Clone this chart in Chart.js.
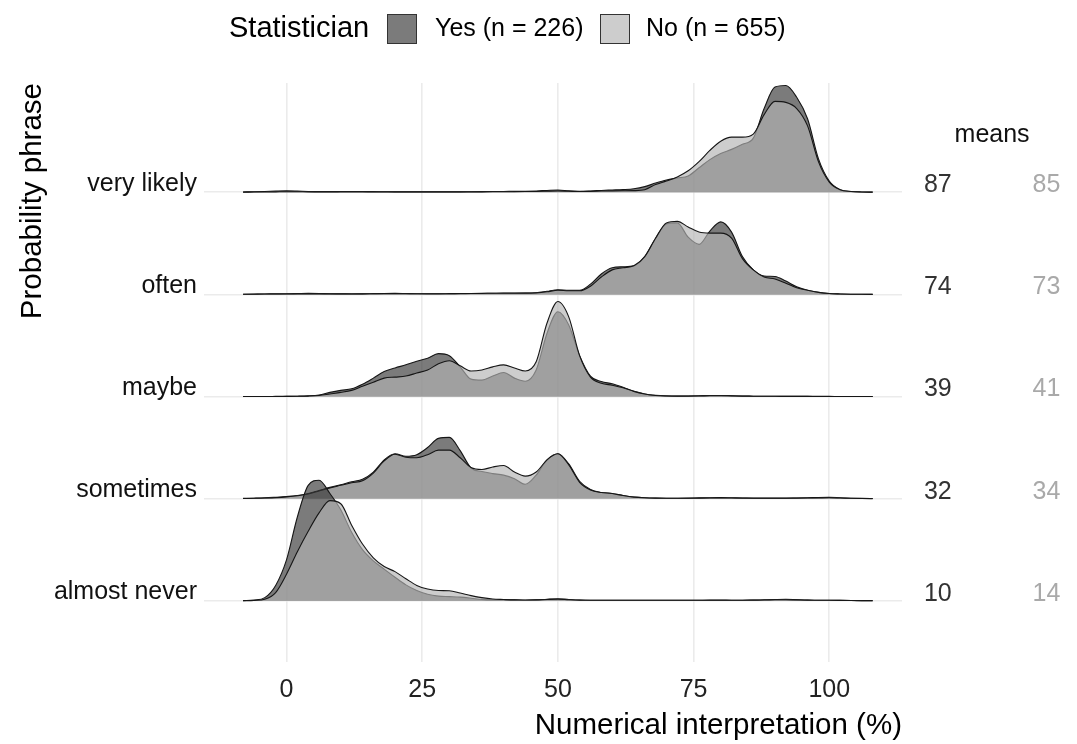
<!DOCTYPE html>
<html>
<head>
<meta charset="utf-8">
<script src="https://cdn.jsdelivr.net/npm/chart.js"></script>
<style>
  html, body { margin: 0; background: #fff; }
  #wrap { width: 1077px; height: 744px; position: relative; }
</style>
</head>
<body>
<div id="wrap"><canvas id="ridges"></canvas></div>
<script>
// rows from bottom to top
const categories = ["almost never", "sometimes", "maybe", "often", "very likely"];
const xTicks = [0, 25, 50, 75, 100];
const legendLabels = ["Yes (n = 226)", "No (n = 655)"];
const meansYes = [10, 32, 39, 74, 87];
const meansNo = [14, 34, 41, 73, 85];

// density estimates, in units of row spacing
const xGrid = [
  -8, -6, -4, -2, 0, 2, 4, 6, 8, 10,
  12, 14, 16, 18, 20, 22, 24, 26, 28, 30,
  32, 34, 36, 38, 40, 42, 44, 46, 48, 50,
  52, 54, 56, 58, 60, 62, 64, 66, 68, 70,
  72, 74, 76, 78, 80, 82, 84, 86, 88, 90,
  92, 94, 96, 98, 100, 102, 104, 106, 108
];

const veryLikelyYes = [
  0.003, 0.005, 0.008, 0.012, 0.015, 0.012, 0.008, 0.006, 0.006, 0.007,
  0.008, 0.007, 0.006, 0.005, 0.004, 0.004, 0.004, 0.004, 0.004, 0.004,
  0.004, 0.005, 0.006, 0.007, 0.008, 0.009, 0.01, 0.013, 0.018, 0.022,
  0.014, 0.01, 0.013, 0.018, 0.022, 0.026, 0.034, 0.055, 0.09, 0.12,
  0.14, 0.16, 0.24, 0.32, 0.38, 0.42, 0.47, 0.53, 0.82, 1.03,
  1.045, 0.93, 0.72, 0.33, 0.11, 0.025, 0.008, 0.003, 0.001
];
const veryLikelyNo = [
  0.001, 0.002, 0.003, 0.004, 0.005, 0.005, 0.004, 0.004, 0.004, 0.004,
  0.004, 0.004, 0.004, 0.004, 0.004, 0.004, 0.004, 0.004, 0.004, 0.004,
  0.004, 0.004, 0.004, 0.005, 0.005, 0.006, 0.007, 0.008, 0.01, 0.012,
  0.01, 0.008, 0.009, 0.012, 0.014, 0.015, 0.016, 0.025, 0.075, 0.11,
  0.15, 0.21, 0.30, 0.41, 0.50, 0.54, 0.54, 0.57, 0.76, 0.89,
  0.88, 0.82, 0.65, 0.30, 0.10, 0.025, 0.008, 0.002, 0.001
];
const oftenYes = [
  0.002, 0.003, 0.004, 0.005, 0.006, 0.008, 0.01, 0.009, 0.006, 0.005,
  0.004, 0.005, 0.007, 0.009, 0.01, 0.008, 0.006, 0.005, 0.005, 0.006,
  0.007, 0.008, 0.009, 0.01, 0.011, 0.011, 0.012, 0.016, 0.03, 0.045,
  0.04, 0.04, 0.1, 0.2, 0.26, 0.27, 0.28, 0.37, 0.55, 0.69,
  0.70, 0.56, 0.49, 0.62, 0.71, 0.61, 0.37, 0.24, 0.18, 0.175,
  0.13, 0.075, 0.04, 0.02, 0.008, 0.004, 0.002, 0.001, 0
];
const oftenNo = [
  0.001, 0.002, 0.003, 0.003, 0.004, 0.005, 0.005, 0.005, 0.005, 0.005,
  0.005, 0.005, 0.006, 0.007, 0.007, 0.006, 0.006, 0.006, 0.006, 0.007,
  0.008, 0.009, 0.01, 0.011, 0.012, 0.012, 0.012, 0.015, 0.025, 0.04,
  0.035, 0.035, 0.08, 0.17, 0.24, 0.26, 0.28, 0.37, 0.55, 0.70,
  0.715, 0.66, 0.61, 0.60, 0.60, 0.55, 0.35, 0.24, 0.17, 0.15,
  0.11, 0.065, 0.04, 0.02, 0.008, 0.004, 0.002, 0.001, 0
];
const maybeYes = [
  0, 0, 0, 0.001, 0.002, 0.003, 0.006, 0.015, 0.04, 0.06,
  0.075, 0.12, 0.18, 0.245, 0.28, 0.31, 0.345, 0.375, 0.42, 0.40,
  0.29, 0.17, 0.16, 0.2, 0.235, 0.18, 0.15, 0.26, 0.62, 0.83,
  0.70, 0.40, 0.2, 0.147, 0.125, 0.09, 0.05, 0.025, 0.012, 0.006,
  0.004, 0.005, 0.007, 0.01, 0.01, 0.007, 0.004, 0.003, 0.002, 0.002,
  0.002, 0.001, 0.001, 0.001, 0.001, 0, 0, 0, 0
];
const maybeNo = [
  0, 0, 0, 0, 0.001, 0.002, 0.004, 0.01, 0.025, 0.04,
  0.06, 0.1, 0.14, 0.18, 0.19, 0.2, 0.23, 0.26, 0.32, 0.35,
  0.30, 0.25, 0.26, 0.29, 0.31, 0.28, 0.25, 0.34, 0.72, 0.93,
  0.78, 0.40, 0.19, 0.13, 0.11, 0.085, 0.05, 0.025, 0.01, 0.005,
  0.004, 0.004, 0.005, 0.007, 0.008, 0.006, 0.004, 0.003, 0.002, 0.002,
  0.001, 0.001, 0.001, 0, 0, 0, 0, 0, 0
];
const sometimesYes = [
  0.002, 0.004, 0.007, 0.013, 0.02, 0.03, 0.05, 0.08, 0.11, 0.135,
  0.165, 0.19, 0.26, 0.38, 0.44, 0.415, 0.43, 0.50, 0.59, 0.60,
  0.47, 0.30, 0.265, 0.245, 0.23, 0.195, 0.14, 0.23, 0.38, 0.44,
  0.34, 0.17, 0.09, 0.06, 0.05, 0.03, 0.015, 0.008, 0.005, 0.004,
  0.004, 0.005, 0.007, 0.009, 0.01, 0.008, 0.006, 0.005, 0.005, 0.005,
  0.005, 0.006, 0.008, 0.011, 0.012, 0.008, 0.004, 0.002, 0.001
];
const sometimesNo = [
  0.001, 0.003, 0.006, 0.01, 0.017, 0.028, 0.045, 0.075, 0.105, 0.13,
  0.155, 0.175, 0.25, 0.37, 0.435, 0.405, 0.40, 0.43, 0.475, 0.475,
  0.40, 0.305, 0.285, 0.31, 0.325, 0.26, 0.22, 0.26, 0.38, 0.44,
  0.33, 0.16, 0.085, 0.06, 0.05, 0.03, 0.015, 0.008, 0.005, 0.004,
  0.004, 0.004, 0.005, 0.006, 0.007, 0.006, 0.005, 0.004, 0.004, 0.004,
  0.004, 0.005, 0.006, 0.007, 0.008, 0.006, 0.003, 0.001, 0
];
const almostNeverYes = [
  0.001, 0.006, 0.03, 0.15, 0.40, 0.82, 1.13, 1.18, 1.05, 0.89,
  0.67, 0.50, 0.39, 0.31, 0.23, 0.155, 0.10, 0.063, 0.045, 0.04,
  0.035, 0.025, 0.013, 0.01, 0.01, 0.008, 0.005, 0.008, 0.015, 0.02,
  0.012, 0.006, 0.004, 0.004, 0.004, 0.004, 0.004, 0.004, 0.004, 0.004,
  0.004, 0.004, 0.005, 0.006, 0.006, 0.005, 0.005, 0.006, 0.009, 0.012,
  0.014, 0.01, 0.006, 0.005, 0.004, 0.003, 0.002, 0.001, 0.001
];
const almostNeverNo = [
  0, 0.003, 0.015, 0.08, 0.26, 0.48, 0.68, 0.86, 0.98, 0.95,
  0.74, 0.555, 0.42, 0.335, 0.285, 0.215, 0.15, 0.115, 0.10, 0.097,
  0.075, 0.05, 0.03, 0.017, 0.012, 0.008, 0.007, 0.008, 0.012, 0.015,
  0.01, 0.006, 0.005, 0.005, 0.004, 0.004, 0.004, 0.004, 0.004, 0.004,
  0.004, 0.004, 0.004, 0.005, 0.005, 0.005, 0.005, 0.006, 0.007, 0.009,
  0.01, 0.008, 0.006, 0.005, 0.004, 0.003, 0.002, 0.001, 0
];

const yesSeries = [almostNeverYes, sometimesYes, maybeYes, oftenYes, veryLikelyYes];
const noSeries = [almostNeverNo, sometimesNo, maybeNo, oftenNo, veryLikelyNo];

const FONT = "'Liberation Sans', Arial, Helvetica, sans-serif";
const yesFill = "rgba(55, 55, 55, 0.66)";
const noFill = "rgba(179, 179, 179, 0.66)";
const gridColor = "#ebebeb";

// each ridge sits on its own row, so shift the densities up by the row index
function ridge(values, row) {
  return xGrid.map((x, i) => ({ x: x, y: row + values[i] }));
}

const datasets = [];
categories.forEach((cat, row) => {
  // higher order is painted first: top row first, "No" over "Yes"
  datasets.push({
    label: cat + " / Yes",
    data: ridge(yesSeries[row], row),
    fill: { value: row },
    backgroundColor: yesFill,
    borderColor: "#161616",
    borderWidth: 1.1,
    order: row * 2 + 1
  });
  datasets.push({
    label: cat + " / No",
    data: ridge(noSeries[row], row),
    fill: { value: row },
    backgroundColor: noFill,
    borderColor: "#161616",
    borderWidth: 1.1,
    order: row * 2
  });
});

// legend, means column and their header
const ridgeNotes = {
  id: "ridgeNotes",
  afterDraw(chart) {
    const { ctx } = chart;
    const x = chart.scales.x;
    const y = chart.scales.y;
    ctx.save();

    ctx.textBaseline = "middle";
    ctx.textAlign = "left";
    ctx.fillStyle = "#000";
    ctx.font = "29px " + FONT;
    ctx.fillText("Statistician", 229, 29);

    const keys = [
      { fill: yesFill, box: 387, text: 435 },
      { fill: noFill, box: 600, text: 646 }
    ];
    ctx.font = "25px " + FONT;
    keys.forEach((k, i) => {
      ctx.fillStyle = "#fff";
      ctx.fillRect(k.box, 14, 30, 30);
      ctx.fillStyle = k.fill;
      ctx.fillRect(k.box, 14, 30, 30);
      ctx.strokeStyle = "#333";
      ctx.lineWidth = 1;
      ctx.strokeRect(k.box + 0.5, 14.5, 29, 29);
      ctx.fillStyle = "#000";
      ctx.fillText(legendLabels[i], k.text, 29);
    });

    ctx.textAlign = "center";
    ctx.textBaseline = "alphabetic";
    ctx.fillStyle = "#111";
    ctx.font = "25px " + FONT;
    ctx.fillText("means", x.getPixelForValue(130), y.getPixelForValue(4.49));

    categories.forEach((cat, row) => {
      const py = y.getPixelForValue(row);
      ctx.fillStyle = "#333";
      ctx.fillText(String(meansYes[row]), x.getPixelForValue(120), py);
      ctx.fillStyle = "#a9a9a9";
      ctx.fillText(String(meansNo[row]), x.getPixelForValue(140), py);
    });
    ctx.restore();
  }
};

new Chart(document.getElementById("ridges"), {
  type: "line",
  data: { datasets: datasets },
  options: {
    responsive: true,
    maintainAspectRatio: false,
    animation: false,
    layout: { padding: { top: 83, right: 175, bottom: 0, left: 0 } },
    elements: {
      point: { radius: 0, hoverRadius: 0 },
      line: { cubicInterpolationMode: "monotone" }
    },
    plugins: {
      legend: { display: false },
      tooltip: { enabled: false }
    },
    scales: {
      x: {
        type: "linear",
        min: -15.2,
        max: 113.4,
        afterBuildTicks: (s) => { s.ticks = xTicks.map((v) => ({ value: v })); },
        afterFit: (s) => { s.height = 82; },
        grid: { color: gridColor, lineWidth: 1.6, drawTicks: false },
        border: { display: false },
        ticks: {
          padding: 13,
          color: "#222",
          font: { family: FONT, size: 25 }
        },
        title: {
          display: true,
          text: "Numerical interpretation (%)",
          align: "end",
          color: "#000",
          font: { family: FONT, size: 29.5 },
          padding: { top: 0, bottom: 0 }
        }
      },
      y: {
        type: "linear",
        min: -0.6,
        max: 5.07,
        afterBuildTicks: (s) => { s.ticks = categories.map((c, i) => ({ value: i })); },
        afterFit: (s) => { s.width = 204; },
        grid: { color: gridColor, lineWidth: 1.6, drawTicks: false },
        border: { display: false },
        ticks: {
          padding: 7,
          labelOffset: -8.5,
          color: "#111",
          font: { family: FONT, size: 25 },
          callback: (v) => categories[v]
        },
        title: {
          display: true,
          text: "Probability phrase",
          align: "end",
          color: "#000",
          font: { family: FONT, size: 29.5 },
          padding: { top: 15, bottom: 0 }
        }
      }
    }
  },
  plugins: [ridgeNotes]
});
</script>
</body>
</html>
